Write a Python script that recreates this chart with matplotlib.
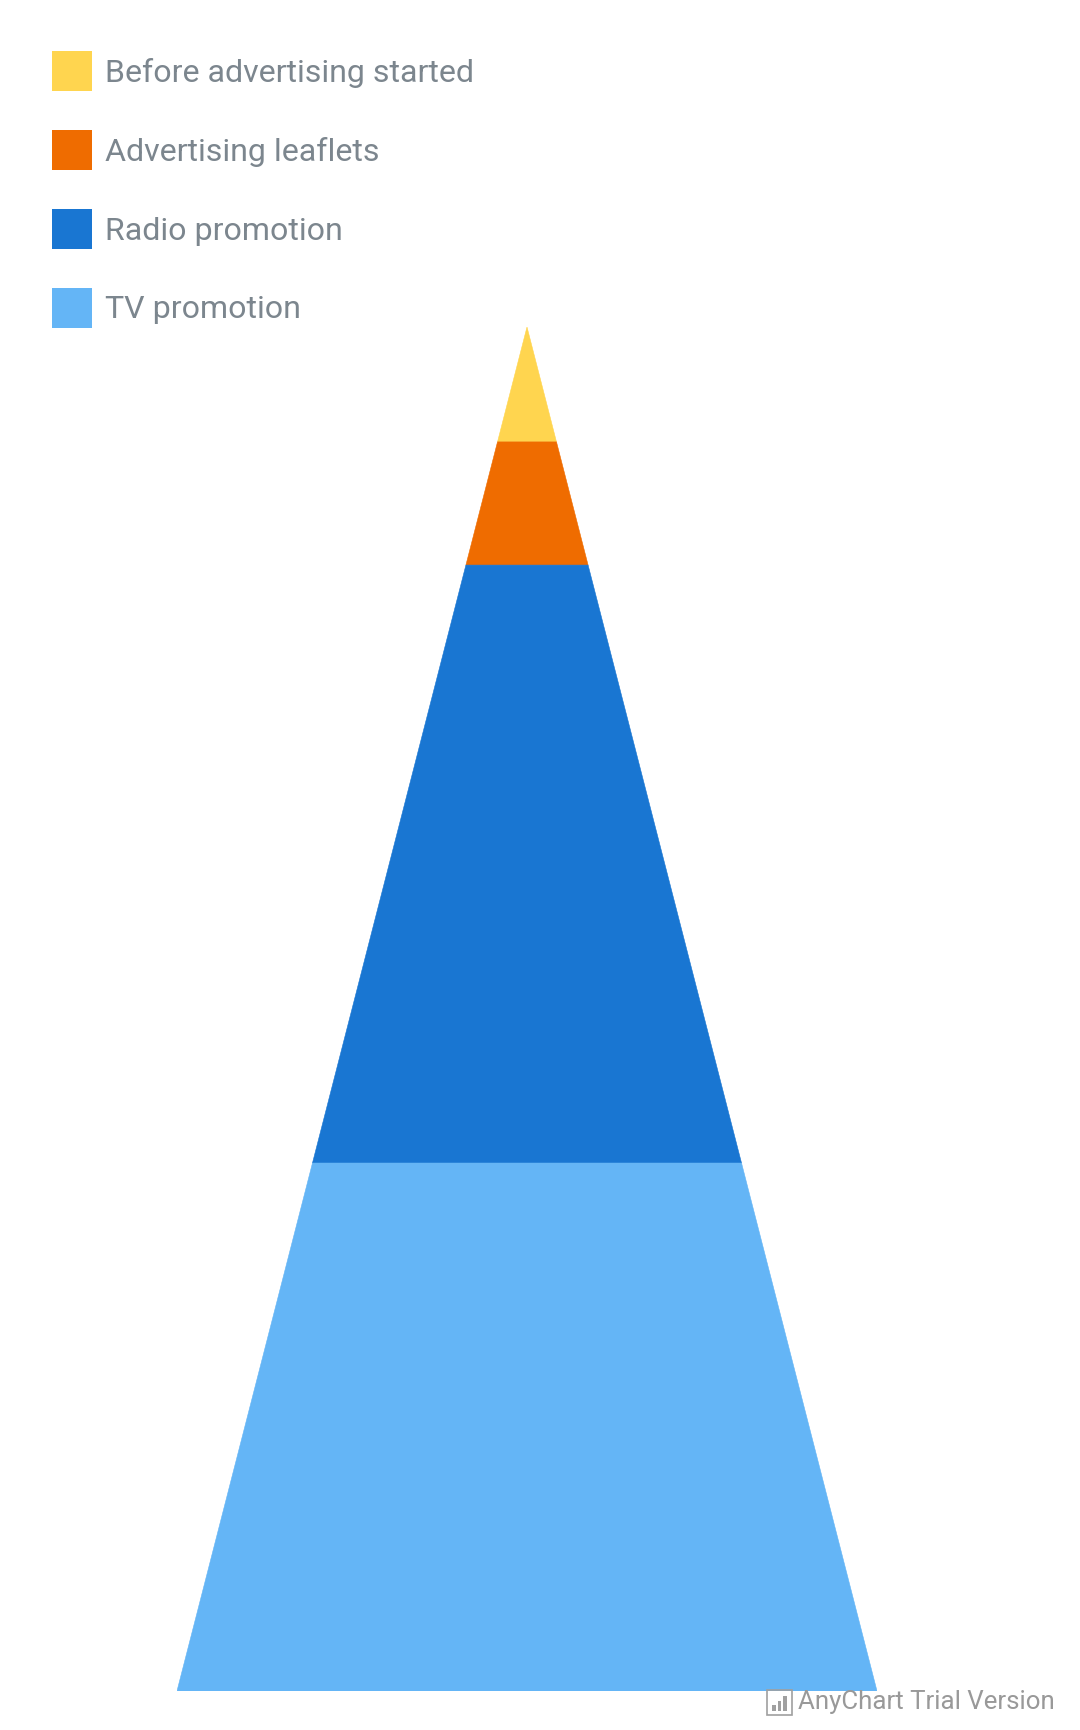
import matplotlib.pyplot as plt
from matplotlib.patches import Polygon, Rectangle
import numpy as np

plt.rcParams['font.family'] = ['Roboto', 'DejaVu Sans']

# data, top of pyramid first
names = ['Before advertising started', 'Advertising leaflets',
         'Radio promotion', 'TV promotion']
values = [1386622, 1486621, 7216301, 6371664]
colors = ['#ffd54f', '#ef6c00', '#1976d2', '#64b5f6']

W, H = 1080, 1731
fig = plt.figure(figsize=(W / 100, H / 100), dpi=100)

# pyramid axes: apex at y=328px, base at y=1692px, base from x=177 to 877
top_px, bot_px, left_px, right_px = 328, 1692, 177, 877
ax = fig.add_axes([left_px / W, 1 - bot_px / H,
                   (right_px - left_px) / W, (bot_px - top_px) / H])
total = float(sum(values))
ax.set_xlim(-0.5, 0.5)
ax.set_ylim(total, 0)
ax.axis('off')

cum = np.concatenate([[0], np.cumsum(values)])
for i, c in enumerate(colors):
    y0, y1 = cum[i], cum[i + 1]
    w0, w1 = 0.5 * y0 / total, 0.5 * y1 / total
    ax.add_patch(Polygon([(-w0, y0), (w0, y0), (w1, y1), (-w1, y1)],
                         closed=True, facecolor=c, edgecolor=c, lw=0.4))

# legend, drawn in pixel units of the figure
lax = fig.add_axes([0, 0, 1, 1])
lax.set_xlim(0, W)
lax.set_ylim(H, 0)
lax.axis('off')
lax.patch.set_alpha(0)
for i, (n, c) in enumerate(zip(names, colors)):
    yc = 72 + i * 79
    lax.add_patch(Rectangle((52, yc - 20), 40, 40, facecolor=c, edgecolor='none'))
    lax.text(105, yc + 1, n, fontsize=23.1, color='#7c868e', va='center', ha='left')

# watermark
lax.add_patch(Rectangle((767, 1691), 25, 25, facecolor='none',
                        edgecolor='#a0a0a0', lw=1.2))
for k, hgt in enumerate([6, 10, 15]):
    lax.add_patch(Rectangle((772 + k * 5.5, 1712 - hgt), 3.5, hgt,
                            facecolor='#a0a0a0', edgecolor='none'))
lax.text(798, 1702, 'AnyChart Trial Version', fontsize=18.6, color='#999999',
         va='center', ha='left')

fig.savefig('out.png', dpi=100)
